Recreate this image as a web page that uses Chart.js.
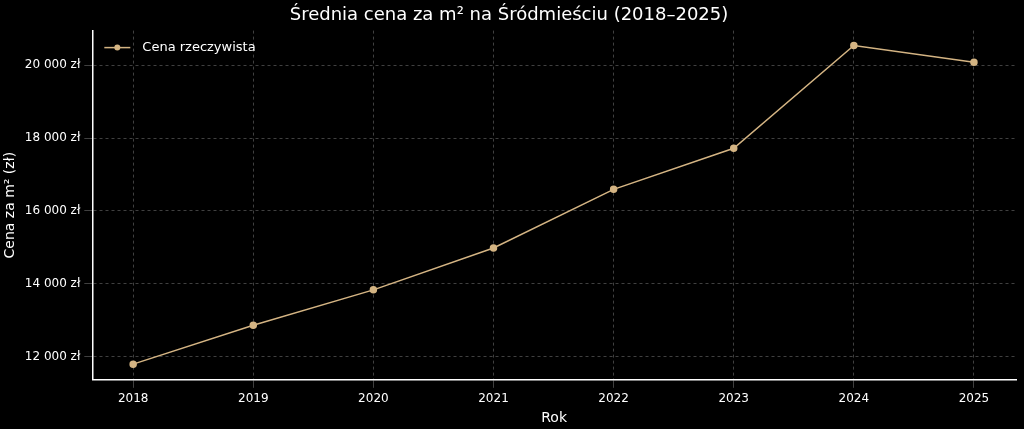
<!DOCTYPE html>
<html>
<head>
<meta charset="utf-8">
<script src="https://cdn.jsdelivr.net/npm/chart.js@4"></script>
<style>
  html, body { margin: 0; background: #000; }
  #wrap { width: 1024px; height: 429px; }
</style>
</head>
<body>
<div id="wrap"><canvas id="chart"></canvas></div>
<script>
const years = [2018, 2019, 2020, 2021, 2022, 2023, 2024, 2025];
const prices = [11790, 12860, 13830, 14980, 16590, 17720, 20540, 20080];
const yTicks = [12000, 14000, 16000, 18000, 20000];
const lineColor = '#d4b483';

const fmt = v => String(v).replace(/\B(?=(\d{3})+(?!\d))/g, ' ') + ' zł';

// legend drawn inside the plot area, top left
const insideLegend = {
    id: 'insideLegend',
    afterDraw(chart) {
        const ctx = chart.ctx;
        const a = chart.chartArea;
        const x = a.left + 12, y = a.top + 17;
        ctx.save();
        ctx.strokeStyle = lineColor;
        ctx.fillStyle = lineColor;
        ctx.lineWidth = 1.5;
        ctx.beginPath();
        ctx.moveTo(x, y);
        ctx.lineTo(x + 26, y);
        ctx.stroke();
        ctx.beginPath();
        ctx.arc(x + 13, y, 3, 0, Math.PI * 2);
        ctx.fill();
        ctx.fillStyle = '#fff';
        ctx.font = '13px "DejaVu Sans"';
        ctx.textBaseline = 'middle';
        ctx.fillText(chart.data.datasets[0].label, x + 38, y);
        ctx.restore();
    }
};

const gridCfg = { color: 'rgba(255,255,255,0.25)' };

new Chart(document.getElementById('chart'), {
    type: 'line',
    data: {
        datasets: [{
            label: 'Cena rzeczywista',
            data: years.map((y, i) => ({ x: y, y: prices[i] })),
            borderColor: lineColor,
            backgroundColor: lineColor,
            borderWidth: 1.5,
            pointRadius: 3,
            tension: 0
        }]
    },
    options: {
        responsive: true,
        maintainAspectRatio: false,
        animation: false,
        layout: { padding: { left: 2, right: 8, top: 0, bottom: 2 } },
        plugins: {
            title: {
                display: true,
                text: 'Średnia cena za m² na Śródmieściu (2018–2025)',
                color: '#fff',
                font: { family: 'DejaVu Sans', size: 18, weight: 'normal' },
                padding: { top: 5, bottom: 4 }
            },
            legend: { display: false }
        },
        scales: {
            x: {
                type: 'linear',
                min: 2017.66,
                max: 2025.35,
                afterBuildTicks: axis => { axis.ticks = years.map(v => ({ value: v })); },
                ticks: { color: '#fff', font: { family: 'DejaVu Sans', size: 12 }, callback: v => String(v), padding: 4 },
                grid: gridCfg,
                border: { color: '#fff', width: 1.5, dash: [3, 3] },
                title: { display: true, text: 'Rok', color: '#fff', font: { family: 'DejaVu Sans', size: 14 }, padding: { top: 0, bottom: 0 } }
            },
            y: {
                min: 11360,
                max: 20950,
                afterBuildTicks: axis => { axis.ticks = yTicks.map(v => ({ value: v })); },
                ticks: { color: '#fff', font: { family: 'DejaVu Sans', size: 12 }, callback: v => fmt(v), padding: 4 },
                grid: gridCfg,
                border: { color: '#fff', width: 1.5, dash: [3, 3] },
                title: { display: true, text: 'Cena za m² (zł)', color: '#fff', font: { family: 'DejaVu Sans', size: 14 }, padding: { top: 0, bottom: 2 } }
            }
        }
    },
    plugins: [insideLegend]
});
</script>
</body>
</html>
